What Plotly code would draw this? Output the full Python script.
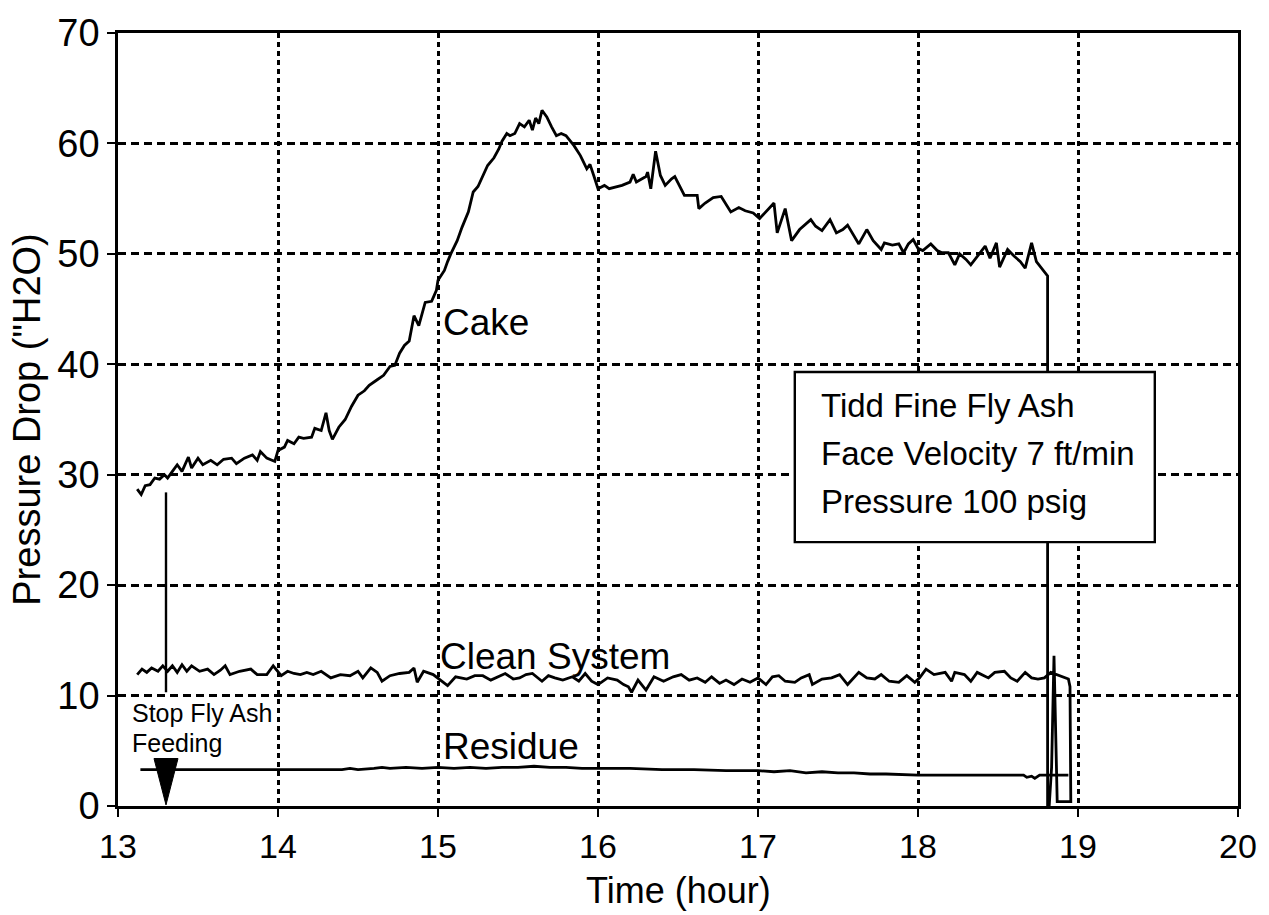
import plotly.graph_objects as go

# ---------------- data ----------------
cake_t = [13.12, 13.145, 13.17, 13.20, 13.23, 13.26, 13.29, 13.31, 13.34, 13.37, 13.40, 13.44, 13.46,
          13.50, 13.53, 13.58, 13.62, 13.66, 13.71, 13.74, 13.79, 13.84, 13.87, 13.89, 13.93, 13.98,
          14.00, 14.04, 14.06, 14.10, 14.13, 14.16, 14.21, 14.23, 14.27, 14.30, 14.32, 14.34, 14.38,
          14.42, 14.46, 14.50, 14.54, 14.57, 14.62, 14.66, 14.70, 14.73, 14.76, 14.79, 14.82, 14.85,
          14.88, 14.92, 14.96, 14.99, 15.00, 15.04, 15.06, 15.08, 15.12, 15.15, 15.19, 15.22, 15.25,
          15.28, 15.31, 15.35, 15.38, 15.40, 15.43, 15.45, 15.48, 15.51, 15.54, 15.57, 15.59, 15.61,
          15.63, 15.65, 15.68, 15.71, 15.74, 15.77, 15.80, 15.85, 15.89, 15.93, 15.95, 15.98, 16.00,
          16.04, 16.07, 16.15, 16.20, 16.22, 16.24, 16.30, 16.31, 16.33, 16.36, 16.39, 16.42, 16.46,
          16.48, 16.54, 16.62, 16.63, 16.67, 16.72, 16.77, 16.83, 16.88, 16.92, 16.97, 17.01, 17.05,
          17.10, 17.12, 17.17, 17.21, 17.26, 17.33, 17.36, 17.40, 17.45, 17.49, 17.53, 17.56, 17.63,
          17.68, 17.72, 17.77, 17.79, 17.84, 17.88, 17.91, 17.94, 17.97, 18.00, 18.03, 18.08, 18.12,
          18.15, 18.19, 18.23, 18.26, 18.30, 18.33, 18.38, 18.42, 18.45, 18.49, 18.51, 18.56, 18.60,
          18.64, 18.67, 18.71, 18.74, 18.79, 18.81, 18.81]
cake_p = [28.7, 28.2, 29.0, 29.1, 29.7, 29.6, 30.0, 29.7, 30.3, 30.9, 30.3, 31.6, 30.6,
          31.5, 30.9, 31.3, 30.9, 31.4, 31.5, 31.0, 31.5, 31.8, 31.3, 32.1, 31.5, 31.2,
          32.2, 32.5, 33.1, 32.8, 33.4, 33.3, 33.4, 34.2, 34.0, 35.6, 34.0, 33.2, 34.3,
          35.0, 36.2, 37.2, 37.6, 38.1, 38.6, 39.0, 39.8, 39.9, 41.0, 41.7, 42.1, 44.4,
          43.5, 45.6, 45.7, 46.7, 47.6, 48.5, 49.3, 50.0, 51.2, 52.4, 53.8, 55.6, 56.1,
          57.0, 58.0, 58.7, 59.5, 60.2, 60.9, 60.7, 60.9, 61.8, 61.5, 62.1, 61.2, 62.3,
          61.8, 63.0, 62.4, 61.5, 60.7, 60.9, 60.7, 59.8, 58.9, 57.7, 58.1, 56.8, 55.9,
          56.2, 55.9, 56.2, 56.5, 57.2, 56.5, 57.0, 57.4, 55.9, 59.3, 57.1, 56.2, 56.8,
          57.0, 55.3, 55.3, 54.1, 54.6, 55.1, 55.2, 53.8, 54.2, 53.9, 53.7, 53.2, 53.8,
          54.6, 51.9, 54.1, 51.2, 52.2, 53.1, 52.5, 52.1, 53.1, 51.9, 52.2, 52.6, 50.9,
          52.2, 51.2, 50.4, 51.0, 50.8, 50.9, 50.1, 50.9, 51.3, 50.5, 50.3, 50.9, 50.3,
          50.1, 50.1, 49.0, 50.0, 49.5, 49.0, 49.9, 50.7, 49.6, 51.0, 48.8, 50.4, 49.8,
          49.3, 48.7, 51.0, 49.3, 48.4, 48.0, 0.0]

clean_t = [13.12, 13.15, 13.18, 13.21, 13.25, 13.28, 13.31, 13.34, 13.37, 13.40, 13.43, 13.46, 13.51,
           13.56, 13.60, 13.64, 13.67, 13.70, 13.76, 13.83, 13.87, 13.93, 13.97, 14.02, 14.06, 14.10,
           14.14, 14.18, 14.22, 14.27, 14.33, 14.39, 14.45, 14.50, 14.53, 14.58, 14.62, 14.65, 14.70,
           14.76, 14.82, 14.85, 14.87, 14.91, 14.97, 15.02, 15.06, 15.11, 15.18, 15.23, 15.28, 15.33,
           15.38, 15.42, 15.47, 15.51, 15.55, 15.59, 15.65, 15.69, 15.73, 15.78, 15.84, 15.88, 15.92,
           15.96, 16.00, 16.06, 16.12, 16.16, 16.19, 16.21, 16.25, 16.30, 16.35, 16.41, 16.47, 16.52,
           16.57, 16.62, 16.67, 16.71, 16.76, 16.80, 16.85, 16.90, 16.95, 17.00, 17.05, 17.09, 17.13,
           17.17, 17.23, 17.27, 17.32, 17.34, 17.40, 17.46, 17.51, 17.56, 17.63, 17.68, 17.73, 17.77,
           17.82, 17.88, 17.93, 17.98, 18.01, 18.05, 18.10, 18.17, 18.21, 18.23, 18.29, 18.33, 18.37,
           18.44, 18.48, 18.54, 18.58, 18.62, 18.67, 18.71, 18.75, 18.79, 18.83, 18.89, 18.94, 18.95,
           18.955, 18.87, 18.865, 18.85, 18.835, 18.82]
clean_p = [11.9, 12.4, 12.1, 12.5, 12.2, 12.7, 12.2, 12.7, 12.1, 12.8, 12.2, 12.7, 12.2,
           12.4, 11.9, 12.3, 12.7, 11.9, 12.2, 12.4, 11.9, 11.9, 12.7, 11.8, 12.2, 12.0,
           11.9, 12.1, 11.9, 12.2, 11.6, 11.9, 11.8, 12.2, 11.6, 12.5, 12.1, 11.3, 11.8,
           12.0, 12.1, 12.5, 11.2, 12.2, 11.9, 11.3, 10.9, 11.7, 11.5, 11.8, 11.8, 11.4,
           11.7, 12.0, 11.5, 11.6, 11.9, 12.0, 11.3, 11.8, 11.6, 11.4, 11.7, 11.3, 12.0,
           11.3, 11.0, 11.6, 11.4, 11.0, 10.8, 10.3, 11.4, 10.5, 11.7, 11.3, 11.7, 11.9,
           11.4, 11.6, 11.2, 11.7, 11.1, 11.4, 11.0, 11.5, 11.2, 11.6, 11.0, 11.7, 11.8,
           11.3, 11.2, 11.6, 11.9, 11.0, 11.5, 11.6, 11.9, 11.0, 12.1, 11.6, 11.5, 11.9,
           11.3, 11.2, 11.8, 11.2, 11.6, 12.4, 11.9, 12.1, 11.3, 12.1, 11.9, 11.3, 12.1,
           11.6, 12.1, 12.2, 11.6, 11.3, 12.1, 11.6, 11.5, 11.6, 12.1, 11.8, 11.5, 10.8,
           0.4, 0.4, 4.5, 13.6, 3.5, 0.0]

residue_t = [13.14, 13.5, 14.0, 14.4, 14.45, 14.5, 14.6, 14.65, 14.7, 14.8, 14.9, 15.0, 15.1, 15.2,
             15.3, 15.4, 15.5, 15.6, 15.7, 15.8, 15.9, 16.0, 16.2, 16.4, 16.6, 16.8, 17.0, 17.1,
             17.2, 17.3, 17.4, 17.5, 17.6, 17.7, 17.8, 18.0, 18.2, 18.4, 18.6, 18.66, 18.68, 18.71,
             18.73, 18.76, 18.94]
residue_p = [3.3, 3.3, 3.3, 3.3, 3.4, 3.3, 3.4, 3.5, 3.4, 3.5, 3.4, 3.5, 3.4, 3.5,
             3.4, 3.5, 3.5, 3.6, 3.5, 3.5, 3.4, 3.4, 3.4, 3.3, 3.3, 3.2, 3.2, 3.1,
             3.2, 3.0, 3.1, 3.0, 3.0, 2.9, 2.9, 2.8, 2.8, 2.8, 2.8, 2.8, 2.6, 2.7,
             2.5, 2.8, 2.8]

# "Stop Fly Ash Feeding" marker
stop_t = 13.30
stop_line_p = [10.3, 28.4]
stop_tri_t = [13.225, 13.375, 13.30, 13.225]
stop_tri_p = [4.3, 4.3, 0.1, 4.3]

x_ticks = [13, 14, 15, 16, 17, 18, 19, 20]
y_ticks = [0, 10, 20, 30, 40, 50, 60, 70]

info_lines = ["Tidd Fine Fly Ash", "Face Velocity 7 ft/min", "Pressure 100 psig"]

FONT = "Liberation Sans, Arial, Helvetica, sans-serif"

fig = go.Figure()
line_style = dict(color="black", width=2.8)
fig.add_trace(go.Scatter(x=cake_t, y=cake_p, mode="lines", line=line_style, showlegend=False))
fig.add_trace(go.Scatter(x=clean_t, y=clean_p, mode="lines", line=line_style, showlegend=False))
fig.add_trace(go.Scatter(x=residue_t, y=residue_p, mode="lines", line=line_style, showlegend=False))
fig.add_trace(go.Scatter(x=[stop_t, stop_t], y=stop_line_p, mode="lines",
                         line=dict(color="black", width=2.4), showlegend=False))
fig.add_trace(go.Scatter(x=stop_tri_t, y=stop_tri_p, mode="lines", fill="toself",
                         fillcolor="black", line=dict(color="black", width=1), showlegend=False))

# text box
fig.add_shape(type="rect", xref="x", yref="y", x0=17.23, x1=19.48, y0=23.9, y1=39.3,
              line=dict(color="black", width=2.4), fillcolor="white", layer="above")
for i, txt in enumerate(info_lines):
    fig.add_annotation(x=17.38, y=36.3 - i * 4.35, xref="x", yref="y", text=txt, showarrow=False,
                       xanchor="left", yanchor="middle", font=dict(family=FONT, size=33, color="black"))

# curve labels
fig.add_annotation(x=15.02, y=43.8, text="Cake", showarrow=False, xanchor="left", yanchor="middle",
                   font=dict(family=FONT, size=37, color="black"))
fig.add_annotation(x=15.0, y=13.5, text="Clean System", showarrow=False, xanchor="left", yanchor="middle",
                   font=dict(family=FONT, size=37, color="black"))
fig.add_annotation(x=15.02, y=5.4, text="Residue", showarrow=False, xanchor="left", yanchor="middle",
                   font=dict(family=FONT, size=37, color="black"))
fig.add_annotation(x=13.075, y=8.4, text="Stop Fly Ash", showarrow=False, xanchor="left", yanchor="middle",
                   font=dict(family=FONT, size=25, color="black"))
fig.add_annotation(x=13.075, y=5.7, text="Feeding", showarrow=False, xanchor="left", yanchor="middle",
                   font=dict(family=FONT, size=25, color="black"))

# x-axis title placed just under the tick labels
fig.add_annotation(x=0.5, y=-0.08, xref="paper", yref="paper", text="Time (hour)", showarrow=False,
                   xanchor="center", yanchor="top", font=dict(family=FONT, size=36, color="black"))

axis_common = dict(showline=True, linecolor="black", linewidth=2.6, mirror=True,
                   ticks="outside", ticklen=8, tickwidth=2.4, tickcolor="black",
                   showgrid=True, gridcolor="black", gridwidth=2.6, zeroline=False)

fig.update_xaxes(range=[13, 20], tickvals=x_ticks, ticktext=[str(v) for v in x_ticks],
                 griddash="5px,4px", tickfont=dict(family=FONT, size=34, color="black"),
                 **axis_common)
fig.update_yaxes(range=[0, 70], tickvals=y_ticks, ticktext=[str(v) for v in y_ticks],
                 griddash="8px,5px", tickfont=dict(family=FONT, size=38, color="black"),
                 title=dict(text="Pressure Drop (\"H2O)", font=dict(family=FONT, size=38, color="black"), standoff=6),
                 **axis_common)

fig.update_layout(width=1269, height=915, margin=dict(l=118, r=28, t=23, b=109),
                  paper_bgcolor="white", plot_bgcolor="white", font=dict(family=FONT))

fig.write_html("out.html")
